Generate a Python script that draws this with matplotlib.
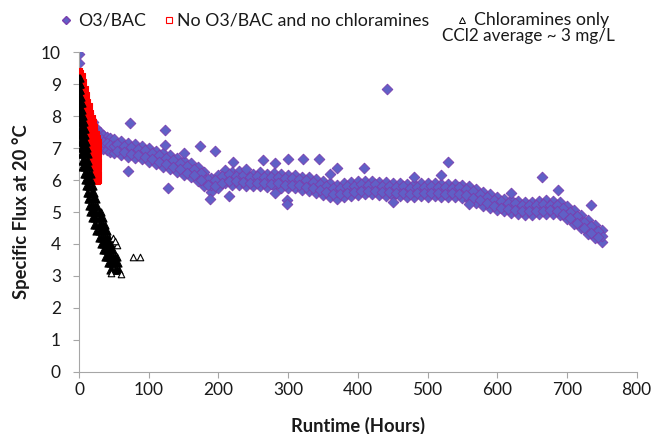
import matplotlib
matplotlib.use("Agg")
import matplotlib.pyplot as plt
from matplotlib.lines import Line2D

plt.rcParams['font.family'] = ['Lato', 'DejaVu Sans']

# --- O3/BAC: readings of the band (upper / middle / lower edge) ---------
o3_hours = [0, 2, 4, 6, 8, 10, 13, 16, 20, 25,
            30, 35, 40, 45, 50, 60, 70, 80, 90, 100,
            110, 120, 130, 140, 150, 160, 170, 180, 190, 200,
            210, 220, 230, 240, 250, 260, 270, 280, 290, 300,
            310, 320, 330, 340, 350, 360, 370, 380, 390, 400,
            410, 420, 430, 440, 450, 460, 470, 480, 490, 500,
            510, 520, 530, 540, 550, 560, 570, 580, 590, 600,
            610, 620, 630, 640, 650, 660, 670, 680, 690, 700,
            710, 720, 730, 740, 750]
o3_hi = [9.30, 8.95, 8.70, 8.55, 8.40, 8.25, 8.10, 7.95, 7.80, 7.62,
         7.50, 7.42, 7.35, 7.30, 7.27, 7.22, 7.15, 7.12, 7.05, 7.00,
         6.92, 6.85, 6.78, 6.70, 6.60, 6.52, 6.42, 6.25, 6.05, 6.17,
         6.30, 6.25, 6.28, 6.22, 6.20, 6.24, 6.20, 6.22, 6.18, 6.15,
         6.17, 6.10, 6.08, 6.03, 5.97, 5.90, 5.85, 5.90, 5.93, 5.96,
         5.98, 5.97, 5.95, 5.93, 5.90, 5.92, 5.88, 5.88, 5.90, 5.90,
         5.90, 5.88, 5.88, 5.88, 5.86, 5.82, 5.72, 5.63, 5.55, 5.48,
         5.42, 5.38, 5.35, 5.32, 5.32, 5.34, 5.36, 5.35, 5.30, 5.20,
         5.06, 4.92, 4.74, 4.58, 4.45]
o3_mid = [9.00, 8.70, 8.45, 8.30, 8.15, 8.00, 7.85, 7.70, 7.55, 7.40,
          7.30, 7.20, 7.15, 7.10, 7.05, 7.00, 6.93, 6.90, 6.86, 6.78,
          6.72, 6.62, 6.56, 6.47, 6.38, 6.31, 6.20, 6.02, 5.84, 5.95,
          6.10, 6.05, 6.06, 6.03, 6.00, 6.02, 5.99, 6.01, 5.97, 5.95,
          5.96, 5.90, 5.88, 5.82, 5.75, 5.68, 5.63, 5.68, 5.72, 5.75,
          5.78, 5.77, 5.75, 5.72, 5.70, 5.71, 5.68, 5.67, 5.70, 5.69,
          5.70, 5.68, 5.67, 5.68, 5.65, 5.60, 5.50, 5.42, 5.33, 5.27,
          5.22, 5.18, 5.15, 5.12, 5.12, 5.13, 5.15, 5.14, 5.10, 4.98,
          4.85, 4.70, 4.52, 4.38, 4.25]
o3_lo = [8.60, 8.40, 8.20, 8.05, 7.92, 7.78, 7.62, 7.48, 7.33, 7.18,
         7.08, 6.98, 6.93, 6.88, 6.83, 6.78, 6.72, 6.68, 6.65, 6.57,
         6.50, 6.40, 6.34, 6.25, 6.16, 6.10, 5.98, 5.80, 5.62, 5.74,
         5.90, 5.85, 5.85, 5.82, 5.80, 5.80, 5.78, 5.80, 5.76, 5.74,
         5.75, 5.70, 5.67, 5.60, 5.53, 5.46, 5.42, 5.47, 5.50, 5.54,
         5.57, 5.56, 5.54, 5.50, 5.50, 5.50, 5.47, 5.46, 5.49, 5.48,
         5.50, 5.47, 5.46, 5.48, 5.45, 5.38, 5.28, 5.20, 5.12, 5.06,
         5.02, 4.98, 4.95, 4.92, 4.92, 4.93, 4.95, 4.94, 4.90, 4.78,
         4.64, 4.50, 4.32, 4.18, 4.05]
# readings taken between the hours above
o3_hours_b = [55, 65, 75, 85, 95, 105, 115, 125, 135, 145,
              155, 165, 175, 185, 195, 205, 215, 225, 235, 245,
              255, 265, 275, 285, 295, 305, 315, 325, 335, 345,
              355, 365, 375, 385, 395, 405, 415, 425, 435, 445,
              455, 465, 475, 485, 495, 505, 515, 525, 535, 545,
              555, 565, 575, 585, 595, 605, 615, 625, 635, 645,
              655, 665, 675, 685, 695, 705, 715, 725, 735, 745]
o3_up_b = [7.14, 7.05, 7.02, 6.97, 6.93, 6.84, 6.78, 6.68, 6.62, 6.52,
           6.45, 6.34, 6.22, 6.02, 6.00, 6.12, 6.20, 6.14, 6.15, 6.10,
           6.12, 6.09, 6.11, 6.08, 6.05, 6.06, 6.02, 6.00, 5.94, 5.89,
           5.80, 5.76, 5.75, 5.81, 5.82, 5.87, 5.86, 5.87, 5.82, 5.82,
           5.79, 5.80, 5.76, 5.79, 5.78, 5.81, 5.78, 5.77, 5.76, 5.77,
           5.71, 5.66, 5.55, 5.48, 5.39, 5.35, 5.29, 5.27, 5.22, 5.23,
           5.21, 5.25, 5.23, 5.22, 5.14, 5.00, 4.88, 4.70, 4.55, 4.40]
o3_dn_b = [6.91, 6.87, 6.80, 6.79, 6.71, 6.66, 6.56, 6.50, 6.40, 6.33,
           6.23, 6.15, 6.00, 5.83, 5.80, 5.92, 5.97, 5.96, 5.93, 5.92,
           5.90, 5.91, 5.89, 5.90, 5.86, 5.85, 5.83, 5.78, 5.76, 5.68,
           5.61, 5.55, 5.56, 5.60, 5.63, 5.66, 5.67, 5.66, 5.63, 5.61,
           5.60, 5.59, 5.57, 5.58, 5.59, 5.60, 5.59, 5.57, 5.58, 5.56,
           5.52, 5.45, 5.36, 5.27, 5.20, 5.14, 5.10, 5.06, 5.03, 5.02,
           5.03, 5.04, 5.05, 5.02, 4.94, 4.81, 4.67, 4.50, 4.35, 4.22]
o3_out_hours = [0, 0, 73, 123, 123, 173, 195, 128, 70, 221, 264, 442, 300, 321,
                344, 529, 370, 409, 281, 298, 298, 281, 664, 687, 734, 188,
                150, 215, 240, 360, 480, 520, 620, 560, 450]
o3_out_flux = [9.93, 9.65, 7.78, 7.56, 7.10, 7.06, 6.90, 5.75, 6.28, 6.56, 6.62,
               8.84, 6.66, 6.66, 6.66, 6.56, 6.38, 6.38, 6.53, 5.37, 5.25, 5.60,
               6.10, 5.69, 5.22, 5.40, 6.85, 5.50, 6.35, 6.20, 6.10, 6.15, 5.60,
               5.25, 5.30]

# --- No O3/BAC and no chloramines: columns of readings ----------------
red_hours = [0, 2, 4, 6, 8, 10, 12, 14, 16, 18, 20, 22, 24, 26, 27.5]
red_flux = [
    [9.40, 9.20, 9.00, 8.80, 8.60],
    [9.35, 9.15, 8.95, 8.75, 8.55, 8.40],
    [9.25, 9.05, 8.85, 8.65, 8.45, 8.25],
    [9.05, 8.85, 8.65, 8.45, 8.25, 8.05],
    [8.85, 8.65, 8.45, 8.25, 8.05, 7.85],
    [8.65, 8.45, 8.25, 8.05, 7.85, 7.65],
    [8.45, 8.25, 8.05, 7.85, 7.65, 7.45],
    [8.30, 8.10, 7.90, 7.70, 7.50, 7.30, 7.15],
    [8.10, 7.90, 7.70, 7.50, 7.30, 7.10, 6.95],
    [7.95, 7.75, 7.55, 7.35, 7.15, 6.95, 6.75],
    [7.80, 7.60, 7.40, 7.20, 7.00, 6.80, 6.60],
    [7.65, 7.45, 7.25, 7.05, 6.85, 6.65, 6.45, 6.25],
    [7.45, 7.25, 7.05, 6.85, 6.65, 6.45, 6.25, 6.05],
    [7.30, 7.10, 6.90, 6.70, 6.50, 6.30, 6.10, 5.98],
    [7.20, 7.00, 6.80, 6.60, 6.40, 6.20, 6.00],
]

# --- Chloramines only: rows of readings (flux level -> hours) ----------
chl_flux = [9.2, 9.0, 8.8, 8.6, 8.4, 8.2, 8.0, 7.8, 7.6, 7.4,
            7.2, 7.0, 6.8, 6.6, 6.4, 6.2, 6.0, 5.8, 5.6, 5.4,
            5.2, 5.0, 4.8, 4.6, 4.4, 4.2, 4.0, 3.8, 3.6, 3.4, 3.2]
chl_hours = [
    [0, 1], [0, 1, 2], [0, 1, 2], [0, 1, 2, 3], [0, 1, 3, 4],
    [0, 1.5, 3, 4.5], [0.5, 2, 3.5, 5, 6], [1, 2.5, 4, 5.5, 7],
    [1, 3, 5, 7, 8], [1.5, 3.5, 5.5, 7.5, 9], [2, 4, 6, 8, 10],
    [2.5, 4.5, 6.5, 8.5, 10.5, 12], [3, 5, 7.5, 10, 12.5],
    [4, 6, 8.5, 11, 13.5], [5, 7.5, 10, 12.5, 15], [6.5, 9, 11.5, 14, 16.5],
    [9, 11.5, 14, 16.5], [10, 12.5, 15, 18, 20], [11, 13.5, 16.5, 19.5, 22],
    [12.5, 15, 18, 21, 24], [14, 17, 20, 23, 26], [16, 19, 22, 25, 28, 31],
    [19, 22, 25, 28, 31, 34], [22, 25, 28, 31, 34, 37],
    [25, 28, 31, 34, 37, 40], [28, 31, 34, 37, 40, 43],
    [31, 34, 37, 40, 43, 46], [34, 37, 40, 43, 46, 49],
    [37, 40, 43, 46, 49, 52, 54], [41, 44, 47, 50, 53, 56],
    [45, 48, 51, 54, 57],
]
chl_out_hours = [49, 54, 77, 87, 46, 60, 52]
chl_out_flux = [4.20, 3.97, 3.60, 3.60, 3.08, 3.06, 4.10]

# ----------------------------------------------------------------------
purple_face = '#6060c6'
purple_edge = '#7a3fae'
axis_grey = '#a6a6a6'
text_col = '#1a1a1a'

fig = plt.figure(figsize=(6.53, 4.34), dpi=100)
ax = fig.add_axes([0.121, 0.143, 0.854, 0.737])

# O3/BAC band + scattered readings
diamond = dict(marker='D', s=30, facecolor=purple_face, edgecolor=purple_edge,
               linewidth=0.6, zorder=2)
for vals in (o3_hi, o3_lo, o3_mid):
    ax.scatter(o3_hours, vals, **diamond)
for vals in (o3_up_b, o3_dn_b):
    ax.scatter(o3_hours_b, vals, **diamond)
ax.scatter(o3_out_hours, o3_out_flux, **diamond)

# no O3/BAC, no chloramines
rx, ry = [], []
for h, col in zip(red_hours, red_flux):
    rx += [h] * len(col)
    ry += col
ax.scatter(rx, ry, marker='s', s=22, facecolor='#ff0000', edgecolor='#ff0000',
           linewidth=0.8, zorder=3)

# chloramines only
cx, cy = [], []
for f, row in zip(chl_flux, chl_hours):
    cx += row
    cy += [f] * len(row)
ax.scatter(cx, cy, marker='^', s=26, facecolor='black', edgecolor='black',
           linewidth=0.8, zorder=4)
ax.scatter(chl_out_hours, chl_out_flux, marker='^', s=22, facecolor='white',
           edgecolor='black', linewidth=0.8, zorder=4)

ax.set_xlim(0, 800)
ax.set_ylim(0, 10)
ax.set_xticks(range(0, 801, 100))
ax.set_yticks(range(0, 11))
for side in ('top', 'right'):
    ax.spines[side].set_visible(False)
for side in ('left', 'bottom'):
    ax.spines[side].set_color(axis_grey)
ax.tick_params(axis='both', colors=axis_grey, labelcolor=text_col,
               labelsize=12.5, length=4, width=0.8, direction='out')
ax.tick_params(axis='y', pad=9)

ax.set_xlabel('Runtime (Hours)', fontsize=13.2, fontweight='bold', labelpad=13,
              color=text_col)
ax.set_ylabel('Specific Flux at 20 \u00b0C', fontsize=13.2, fontweight='bold',
              labelpad=8, color=text_col)

# legend, laid out as in the original
y1 = 1 - 20 / 434
y2 = 1 - 36 / 434
legend_items = [
    (66, 78, 'O3/BAC', dict(marker='D', markersize=4, markerfacecolor=purple_face,
                            markeredgecolor=purple_edge)),
    (169, 177, 'No O3/BAC and no chloramines',
     dict(marker='s', markersize=5, markerfacecolor='white',
          markeredgecolor='#ff0000', markeredgewidth=0.8)),
    (462, 474, 'Chloramines only',
     dict(marker='^', markersize=5, markerfacecolor='white',
          markeredgecolor='black', markeredgewidth=0.7)),
]
for mx, tx, label, style in legend_items:
    fig.add_artist(Line2D([mx / 653], [y1], transform=fig.transFigure,
                          linestyle='none', **style))
    fig.text(tx / 653, y1, label, ha='left', va='center', fontsize=12.8,
             color=text_col)
fig.text(615 / 653, y2, 'CCl2 average ~ 3 mg/L', ha='right', va='center',
         fontsize=12.3, color=text_col)

fig.savefig('out.png', dpi=100)
